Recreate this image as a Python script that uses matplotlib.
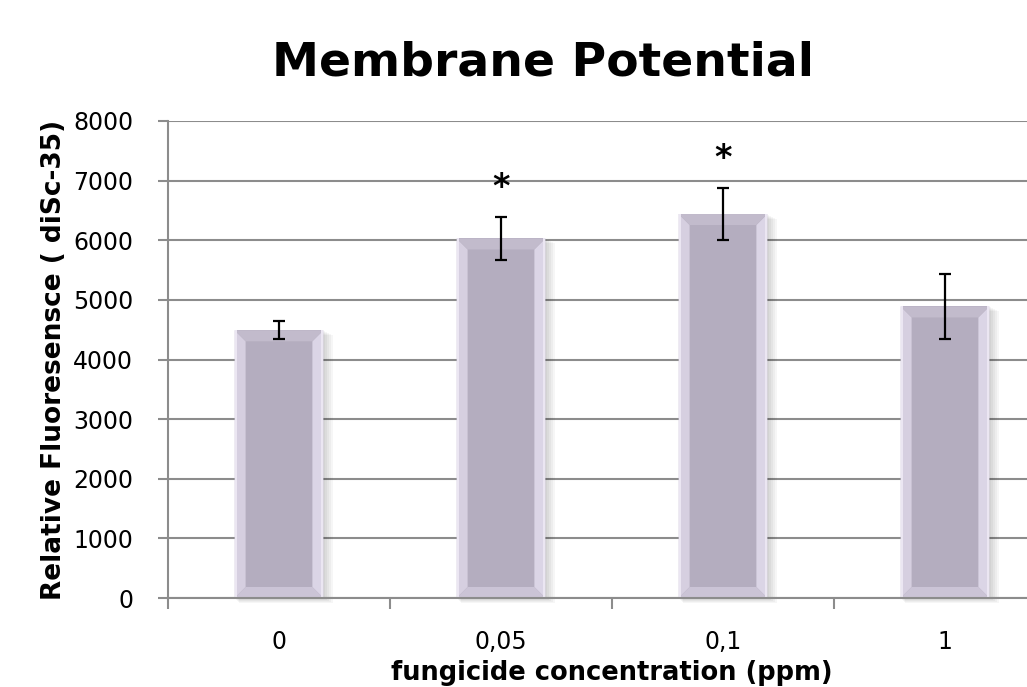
import matplotlib
matplotlib.use("Agg")
import matplotlib.pyplot as plt
from matplotlib.patches import Polygon, Rectangle
import numpy as np

# data
concentrations = ["0", "0,05", "0,1", "1"]
fluorescence = [4490, 6030, 6440, 4890]
errors = [150, 355, 430, 550]
significant = [False, True, True, False]

W, H = 1027, 687
fig = plt.figure(figsize=(W / 100, H / 100), dpi=100)

# axes box in pixels (right edge runs past the picture, as in the reference)
left_px, right_px, top_px, bottom_px = 168, 1056, 121, 598
ax = fig.add_axes([left_px / W, 1 - bottom_px / H,
                   (right_px - left_px) / W, (bottom_px - top_px) / H])

x = np.arange(len(concentrations))
bar_w = 0.4
bar_color = "#b4adbf"

ax.set_xlim(-0.5, len(concentrations) - 0.5)
ax.set_ylim(0, 8000)

# data units per pixel, used for the bevel and shadow
dx = (len(concentrations)) / (right_px - left_px)
dy = 8000 / (bottom_px - top_px)
bev_x, bev_y = 11 * dx, 11 * dy

bars = ax.bar(x, fluorescence, width=bar_w, color=bar_color, zorder=2)

for b in bars:
    x0 = b.get_x()
    x1 = x0 + b.get_width()
    h = b.get_height()
    # soft shadow
    for k in range(1, 6):
        ax.add_patch(Rectangle((x0 + (k - 1) * dx, -k * dy), b.get_width() + (k + 1) * dx,
                               h, facecolor="#000000", alpha=0.035,
                               edgecolor="none", zorder=1.5, clip_on=False))
    # bevel faces
    faces = [
        ([(x0, 0), (x0, h), (x0 + bev_x, h - bev_y), (x0 + bev_x, bev_y)], "#d6cfe0"),
        ([(x1, 0), (x1, h), (x1 - bev_x, h - bev_y), (x1 - bev_x, bev_y)], "#dbd5e6"),
        ([(x0, h), (x1, h), (x1 - bev_x, h - bev_y), (x0 + bev_x, h - bev_y)], "#c2bbcc"),
        ([(x0, 0), (x1, 0), (x1 - bev_x, bev_y), (x0 + bev_x, bev_y)], "#cbc4d6"),
    ]
    for pts, col in faces:
        ax.add_patch(Polygon(pts, closed=True, facecolor=col, edgecolor="none", zorder=2.1))
    # light rim on the outer edges
    ax.add_patch(Rectangle((x0, 0), 2 * dx, h, facecolor="#ebe6f2", edgecolor="none", zorder=2.2))
    ax.add_patch(Rectangle((x1 - 2 * dx, 0), 2 * dx, h, facecolor="#ebe6f2", edgecolor="none", zorder=2.2))

ax.errorbar(x, fluorescence, yerr=errors, fmt="none", ecolor="black",
            elinewidth=1.6, capsize=4.5, capthick=1.6, zorder=3)

for xi, v, e, s in zip(x, fluorescence, errors, significant):
    if s:
        ax.text(xi, v + e + 500, "*", ha="center", va="center",
                fontsize=24, fontweight="bold", zorder=4)

# axes styling
ax.set_axisbelow(True)
ax.yaxis.grid(True, color="#8c8c8c", linewidth=1.5)
for side in ["top", "right"]:
    ax.spines[side].set_visible(False)
for side in ["left", "bottom"]:
    ax.spines[side].set_color("#8c8c8c")
    ax.spines[side].set_linewidth(1.5)

ax.set_yticks(range(0, 8001, 1000))
ax.tick_params(axis="y", length=7, width=1.5, color="#8c8c8c", labelsize=17, pad=18)

# category boundaries as major ticks, labels on minor ticks
ax.set_xticks(np.arange(-0.5, len(concentrations), 1.0))
ax.set_xticklabels([])
ax.set_xticks(x, minor=True)
ax.set_xticklabels(concentrations, minor=True)
ax.tick_params(axis="x", which="major", length=8, width=1.5, color="#8c8c8c")
ax.tick_params(axis="x", which="minor", length=0, labelsize=17, pad=23)

ax.set_xlabel("fungicide concentration (ppm)", fontsize=18.5, fontweight="bold", labelpad=4)
ax.set_ylabel("Relative Fluoresensce ( diSc-35)", fontsize=19, fontweight="bold", labelpad=4)

fig.text(543 / W, 1 - 63 / H, "Membrane Potential", ha="center", va="center",
         fontsize=34, fontweight="bold")

fig.savefig("out.png", dpi=100)
